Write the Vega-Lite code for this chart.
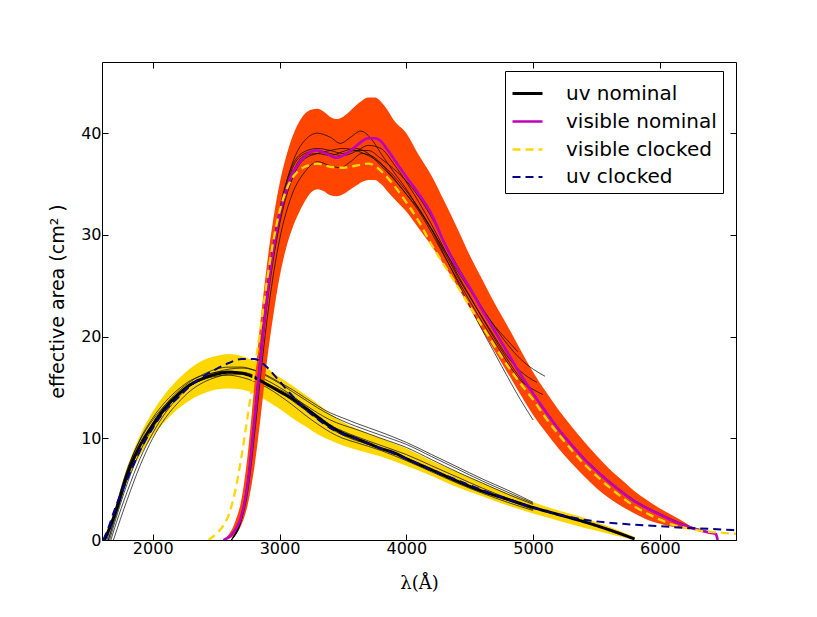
{
  "$schema": "https://vega.github.io/schema/vega-lite/v6.json",
  "autosize": {"type": "none"},
  "padding": {"left": 102, "top": 62, "right": 81, "bottom": 77},
  "width": 634,
  "height": 478,
  "datasets": {
    "uvBand": [
      {"x": 1620, "lo": 0, "hi": 0.3}, {"x": 1700, "lo": 2.2, "hi": 3.0}, {"x": 1800, "lo": 5.8, "hi": 7.2},
      {"x": 1900, "lo": 8.3, "hi": 10.3}, {"x": 2000, "lo": 10.2, "hi": 12.6}, {"x": 2100, "lo": 11.7, "hi": 14.4},
      {"x": 2200, "lo": 12.9, "hi": 15.8}, {"x": 2300, "lo": 13.8, "hi": 16.9}, {"x": 2400, "lo": 14.4, "hi": 17.7},
      {"x": 2500, "lo": 14.8, "hi": 18.1}, {"x": 2600, "lo": 14.9, "hi": 18.3}, {"x": 2700, "lo": 14.8, "hi": 18.1},
      {"x": 2800, "lo": 14.4, "hi": 17.6}, {"x": 2900, "lo": 13.7, "hi": 16.9}, {"x": 3000, "lo": 12.9, "hi": 16.0},
      {"x": 3100, "lo": 12.0, "hi": 15.2}, {"x": 3200, "lo": 11.2, "hi": 14.3}, {"x": 3300, "lo": 10.4, "hi": 13.4},
      {"x": 3400, "lo": 9.8, "hi": 12.4}, {"x": 3500, "lo": 9.3, "hi": 11.6}, {"x": 3600, "lo": 8.9, "hi": 11.0},
      {"x": 3800, "lo": 8.2, "hi": 10.0}, {"x": 4000, "lo": 7.3, "hi": 9.0}, {"x": 4200, "lo": 6.3, "hi": 7.8},
      {"x": 4400, "lo": 5.2, "hi": 6.7}, {"x": 4600, "lo": 4.3, "hi": 5.6}, {"x": 4800, "lo": 3.4, "hi": 4.6},
      {"x": 5000, "lo": 2.6, "hi": 3.7}, {"x": 5200, "lo": 1.9, "hi": 2.9}, {"x": 5400, "lo": 1.2, "hi": 2.2},
      {"x": 5600, "lo": 0.6, "hi": 1.3}, {"x": 5800, "lo": 0, "hi": 0.3}
    ],
    "visBand": [
      {"x": 2560, "lo": 0, "hi": 0}, {"x": 2650, "lo": 0.5, "hi": 1.8}, {"x": 2700, "lo": 1.5, "hi": 4.0},
      {"x": 2750, "lo": 3.5, "hi": 8.5}, {"x": 2800, "lo": 7.0, "hi": 15.0}, {"x": 2850, "lo": 12.0, "hi": 21.5},
      {"x": 2900, "lo": 17.5, "hi": 27.0}, {"x": 2950, "lo": 22.0, "hi": 31.5}, {"x": 3000, "lo": 25.8, "hi": 35.0},
      {"x": 3050, "lo": 28.6, "hi": 37.6}, {"x": 3100, "lo": 30.6, "hi": 39.6}, {"x": 3150, "lo": 32.1, "hi": 41.0},
      {"x": 3200, "lo": 33.3, "hi": 41.9}, {"x": 3250, "lo": 34.2, "hi": 42.3}, {"x": 3300, "lo": 34.5, "hi": 42.4},
      {"x": 3350, "lo": 34.3, "hi": 42.1}, {"x": 3400, "lo": 33.9, "hi": 41.6}, {"x": 3450, "lo": 33.8, "hi": 41.4},
      {"x": 3500, "lo": 34.0, "hi": 41.6}, {"x": 3550, "lo": 34.4, "hi": 42.1}, {"x": 3600, "lo": 34.8, "hi": 42.7},
      {"x": 3650, "lo": 35.2, "hi": 43.2}, {"x": 3700, "lo": 35.4, "hi": 43.5}, {"x": 3750, "lo": 35.4, "hi": 43.5},
      {"x": 3800, "lo": 35.0, "hi": 43.1}, {"x": 3850, "lo": 34.3, "hi": 42.3}, {"x": 3900, "lo": 33.6, "hi": 41.3},
      {"x": 4000, "lo": 32.3, "hi": 40.0}, {"x": 4100, "lo": 30.6, "hi": 37.8}, {"x": 4200, "lo": 28.9, "hi": 35.8},
      {"x": 4300, "lo": 27.0, "hi": 33.3}, {"x": 4400, "lo": 25.0, "hi": 30.7}, {"x": 4500, "lo": 22.8, "hi": 28.0},
      {"x": 4600, "lo": 20.6, "hi": 25.6}, {"x": 4700, "lo": 18.5, "hi": 23.2}, {"x": 4800, "lo": 16.4, "hi": 21.0},
      {"x": 4900, "lo": 14.3, "hi": 18.7}, {"x": 5000, "lo": 12.3, "hi": 16.5}, {"x": 5100, "lo": 10.6, "hi": 14.6},
      {"x": 5200, "lo": 9.0, "hi": 12.8}, {"x": 5300, "lo": 7.6, "hi": 11.2}, {"x": 5400, "lo": 6.3, "hi": 9.7},
      {"x": 5500, "lo": 5.1, "hi": 8.3}, {"x": 5600, "lo": 4.1, "hi": 7.0}, {"x": 5700, "lo": 3.3, "hi": 5.9},
      {"x": 5800, "lo": 2.6, "hi": 4.8}, {"x": 5900, "lo": 2.0, "hi": 3.9}, {"x": 6000, "lo": 1.6, "hi": 3.1},
      {"x": 6100, "lo": 1.3, "hi": 2.4}, {"x": 6200, "lo": 1.1, "hi": 1.7}, {"x": 6270, "lo": 1.0, "hi": 1.1}
    ],
    "uvThin": [
      {"c": "U1", "x": 1650, "y": 0}, {"c": "U1", "x": 1700, "y": 2.0}, {"c": "U1", "x": 1800, "y": 6.0}, {"c": "U1", "x": 1900, "y": 9.2},
      {"c": "U1", "x": 2000, "y": 11.5}, {"c": "U1", "x": 2100, "y": 13.3}, {"c": "U1", "x": 2200, "y": 14.6}, {"c": "U1", "x": 2300, "y": 15.6},
      {"c": "U1", "x": 2400, "y": 16.3}, {"c": "U1", "x": 2500, "y": 16.8}, {"c": "U1", "x": 2600, "y": 17.0}, {"c": "U1", "x": 2700, "y": 17.0},
      {"c": "U1", "x": 2800, "y": 16.7}, {"c": "U1", "x": 2900, "y": 16.1}, {"c": "U1", "x": 3000, "y": 15.4}, {"c": "U1", "x": 3100, "y": 14.6},
      {"c": "U1", "x": 3200, "y": 13.8}, {"c": "U1", "x": 3300, "y": 13.0}, {"c": "U1", "x": 3400, "y": 12.3}, {"c": "U1", "x": 3500, "y": 11.7},
      {"c": "U1", "x": 3600, "y": 11.2}, {"c": "U1", "x": 3800, "y": 10.3}, {"c": "U1", "x": 4000, "y": 9.4}, {"c": "U1", "x": 4200, "y": 8.2},
      {"c": "U1", "x": 4400, "y": 7.0}, {"c": "U1", "x": 4600, "y": 5.8}, {"c": "U1", "x": 4800, "y": 4.7}, {"c": "U1", "x": 5000, "y": 3.6},
      {"c": "U2", "x": 1650, "y": 0}, {"c": "U2", "x": 1700, "y": 2.3}, {"c": "U2", "x": 1800, "y": 6.8}, {"c": "U2", "x": 1900, "y": 9.9},
      {"c": "U2", "x": 2000, "y": 12.0}, {"c": "U2", "x": 2100, "y": 13.6}, {"c": "U2", "x": 2200, "y": 14.8}, {"c": "U2", "x": 2300, "y": 15.7},
      {"c": "U2", "x": 2400, "y": 16.2}, {"c": "U2", "x": 2500, "y": 16.5}, {"c": "U2", "x": 2600, "y": 16.6}, {"c": "U2", "x": 2700, "y": 16.4},
      {"c": "U2", "x": 2800, "y": 16.0}, {"c": "U2", "x": 2900, "y": 15.4}, {"c": "U2", "x": 3000, "y": 14.8}, {"c": "U2", "x": 3100, "y": 14.1},
      {"c": "U2", "x": 3200, "y": 13.3}, {"c": "U2", "x": 3300, "y": 12.5}, {"c": "U2", "x": 3400, "y": 11.8}, {"c": "U2", "x": 3500, "y": 11.3},
      {"c": "U2", "x": 3600, "y": 10.9}, {"c": "U2", "x": 3800, "y": 10.0}, {"c": "U2", "x": 4000, "y": 9.1}, {"c": "U2", "x": 4200, "y": 7.9},
      {"c": "U2", "x": 4400, "y": 6.7}, {"c": "U2", "x": 4600, "y": 5.6}, {"c": "U2", "x": 4800, "y": 4.5}, {"c": "U2", "x": 5000, "y": 3.5},
      {"c": "U3", "x": 1690, "y": 0}, {"c": "U3", "x": 1800, "y": 4.0}, {"c": "U3", "x": 1900, "y": 7.3}, {"c": "U3", "x": 2000, "y": 10.0},
      {"c": "U3", "x": 2100, "y": 12.0}, {"c": "U3", "x": 2200, "y": 13.5}, {"c": "U3", "x": 2300, "y": 14.7}, {"c": "U3", "x": 2400, "y": 15.5},
      {"c": "U3", "x": 2500, "y": 16.0}, {"c": "U3", "x": 2600, "y": 16.3}, {"c": "U3", "x": 2700, "y": 16.3}, {"c": "U3", "x": 2800, "y": 16.0},
      {"c": "U3", "x": 2900, "y": 15.4}, {"c": "U3", "x": 3000, "y": 14.6}, {"c": "U3", "x": 3100, "y": 13.7}, {"c": "U3", "x": 3200, "y": 12.8},
      {"c": "U3", "x": 3300, "y": 11.9}, {"c": "U3", "x": 3400, "y": 11.0}, {"c": "U3", "x": 3500, "y": 10.3}, {"c": "U3", "x": 3600, "y": 9.8},
      {"c": "U3", "x": 3800, "y": 9.0}, {"c": "U3", "x": 4000, "y": 8.0}, {"c": "U3", "x": 4200, "y": 6.9}, {"c": "U3", "x": 4400, "y": 5.8},
      {"c": "U3", "x": 4600, "y": 4.8}, {"c": "U3", "x": 4800, "y": 3.9}, {"c": "U3", "x": 5000, "y": 3.0},
      {"c": "U4", "x": 1660, "y": 0}, {"c": "U4", "x": 1700, "y": 1.7}, {"c": "U4", "x": 1800, "y": 5.6}, {"c": "U4", "x": 1900, "y": 8.7},
      {"c": "U4", "x": 2000, "y": 11.0}, {"c": "U4", "x": 2100, "y": 12.8}, {"c": "U4", "x": 2200, "y": 14.2}, {"c": "U4", "x": 2300, "y": 15.2},
      {"c": "U4", "x": 2400, "y": 15.9}, {"c": "U4", "x": 2500, "y": 16.3}, {"c": "U4", "x": 2600, "y": 16.5}, {"c": "U4", "x": 2700, "y": 16.5},
      {"c": "U4", "x": 2800, "y": 16.2}, {"c": "U4", "x": 2900, "y": 15.7}, {"c": "U4", "x": 3000, "y": 15.0}, {"c": "U4", "x": 3100, "y": 14.2},
      {"c": "U4", "x": 3200, "y": 13.2}, {"c": "U4", "x": 3300, "y": 12.2}, {"c": "U4", "x": 3400, "y": 11.3}, {"c": "U4", "x": 3500, "y": 10.7},
      {"c": "U4", "x": 3600, "y": 10.2}, {"c": "U4", "x": 3800, "y": 9.3}, {"c": "U4", "x": 4000, "y": 8.4}, {"c": "U4", "x": 4200, "y": 7.3},
      {"c": "U4", "x": 4400, "y": 6.2}, {"c": "U4", "x": 4600, "y": 5.1}, {"c": "U4", "x": 4800, "y": 4.1}, {"c": "U4", "x": 5000, "y": 3.2},
      {"c": "U5", "x": 1640, "y": 0}, {"c": "U5", "x": 1700, "y": 2.8}, {"c": "U5", "x": 1800, "y": 7.0}, {"c": "U5", "x": 1900, "y": 9.8},
      {"c": "U5", "x": 2000, "y": 11.8}, {"c": "U5", "x": 2100, "y": 13.3}, {"c": "U5", "x": 2200, "y": 14.4}, {"c": "U5", "x": 2300, "y": 15.2},
      {"c": "U5", "x": 2400, "y": 15.8}, {"c": "U5", "x": 2500, "y": 16.1}, {"c": "U5", "x": 2600, "y": 16.2}, {"c": "U5", "x": 2700, "y": 16.0},
      {"c": "U5", "x": 2800, "y": 15.6}, {"c": "U5", "x": 2900, "y": 15.0}, {"c": "U5", "x": 3000, "y": 14.2}, {"c": "U5", "x": 3100, "y": 13.3},
      {"c": "U5", "x": 3200, "y": 12.3}, {"c": "U5", "x": 3300, "y": 11.4}, {"c": "U5", "x": 3400, "y": 10.6}, {"c": "U5", "x": 3500, "y": 10.0},
      {"c": "U5", "x": 3600, "y": 9.6}, {"c": "U5", "x": 3800, "y": 8.8}, {"c": "U5", "x": 4000, "y": 7.8}, {"c": "U5", "x": 4200, "y": 6.7},
      {"c": "U5", "x": 4400, "y": 5.6}, {"c": "U5", "x": 4600, "y": 4.6}, {"c": "U5", "x": 4800, "y": 3.7}, {"c": "U5", "x": 5000, "y": 2.9},
      {"c": "U6", "x": 1670, "y": 0}, {"c": "U6", "x": 1700, "y": 1.2}, {"c": "U6", "x": 1800, "y": 4.8}, {"c": "U6", "x": 1900, "y": 8.0},
      {"c": "U6", "x": 2000, "y": 10.5}, {"c": "U6", "x": 2100, "y": 12.5}, {"c": "U6", "x": 2200, "y": 14.0}, {"c": "U6", "x": 2300, "y": 15.2},
      {"c": "U6", "x": 2400, "y": 16.0}, {"c": "U6", "x": 2500, "y": 16.5}, {"c": "U6", "x": 2600, "y": 16.8}, {"c": "U6", "x": 2700, "y": 16.9},
      {"c": "U6", "x": 2800, "y": 16.7}, {"c": "U6", "x": 2900, "y": 16.2}, {"c": "U6", "x": 3000, "y": 15.5}, {"c": "U6", "x": 3100, "y": 14.8},
      {"c": "U6", "x": 3200, "y": 14.0}, {"c": "U6", "x": 3300, "y": 13.2}, {"c": "U6", "x": 3400, "y": 12.5}, {"c": "U6", "x": 3500, "y": 12.0},
      {"c": "U6", "x": 3600, "y": 11.5}, {"c": "U6", "x": 3800, "y": 10.6}, {"c": "U6", "x": 4000, "y": 9.6}, {"c": "U6", "x": 4200, "y": 8.4},
      {"c": "U6", "x": 4400, "y": 7.2}, {"c": "U6", "x": 4600, "y": 6.0}, {"c": "U6", "x": 4800, "y": 4.9}, {"c": "U6", "x": 5000, "y": 3.7}
    ],
    "visThin": [
      {"c": "V1", "x": 2620, "y": 0}, {"c": "V1", "x": 2700, "y": 2.0}, {"c": "V1", "x": 2750, "y": 5.2}, {"c": "V1", "x": 2800, "y": 11.0},
      {"c": "V1", "x": 2850, "y": 17.5}, {"c": "V1", "x": 2900, "y": 23.5}, {"c": "V1", "x": 3000, "y": 32.0}, {"c": "V1", "x": 3100, "y": 37.0},
      {"c": "V1", "x": 3200, "y": 39.3}, {"c": "V1", "x": 3300, "y": 40.0}, {"c": "V1", "x": 3400, "y": 39.6}, {"c": "V1", "x": 3480, "y": 39.0},
      {"c": "V1", "x": 3560, "y": 39.6}, {"c": "V1", "x": 3640, "y": 40.2}, {"c": "V1", "x": 3720, "y": 39.5}, {"c": "V1", "x": 3800, "y": 38.0},
      {"c": "V1", "x": 3900, "y": 36.2}, {"c": "V1", "x": 4000, "y": 34.5}, {"c": "V1", "x": 4100, "y": 32.5}, {"c": "V1", "x": 4200, "y": 30.5},
      {"c": "V1", "x": 4300, "y": 28.5}, {"c": "V1", "x": 4400, "y": 26.5}, {"c": "V1", "x": 4500, "y": 24.6}, {"c": "V1", "x": 4600, "y": 22.7},
      {"c": "V1", "x": 4700, "y": 21.0}, {"c": "V1", "x": 4800, "y": 19.6}, {"c": "V1", "x": 4880, "y": 18.5},
      {"c": "V2", "x": 2620, "y": 0}, {"c": "V2", "x": 2700, "y": 2.5}, {"c": "V2", "x": 2750, "y": 6.0}, {"c": "V2", "x": 2800, "y": 12.0},
      {"c": "V2", "x": 2850, "y": 18.5}, {"c": "V2", "x": 2900, "y": 24.5}, {"c": "V2", "x": 3000, "y": 32.5}, {"c": "V2", "x": 3100, "y": 36.8},
      {"c": "V2", "x": 3200, "y": 38.2}, {"c": "V2", "x": 3300, "y": 38.5}, {"c": "V2", "x": 3400, "y": 38.3}, {"c": "V2", "x": 3500, "y": 38.0},
      {"c": "V2", "x": 3600, "y": 38.3}, {"c": "V2", "x": 3700, "y": 38.3}, {"c": "V2", "x": 3800, "y": 37.5}, {"c": "V2", "x": 3900, "y": 36.5},
      {"c": "V2", "x": 4000, "y": 35.3}, {"c": "V2", "x": 4100, "y": 33.7}, {"c": "V2", "x": 4200, "y": 31.7}, {"c": "V2", "x": 4300, "y": 29.3},
      {"c": "V2", "x": 4400, "y": 27.0}, {"c": "V2", "x": 4500, "y": 24.9}, {"c": "V2", "x": 4600, "y": 22.8}, {"c": "V2", "x": 4700, "y": 20.9},
      {"c": "V2", "x": 4800, "y": 19.2}, {"c": "V2", "x": 4900, "y": 17.8}, {"c": "V2", "x": 5000, "y": 16.8}, {"c": "V2", "x": 5094, "y": 16.1},
      {"c": "V3", "x": 2620, "y": 0}, {"c": "V3", "x": 2700, "y": 2.2}, {"c": "V3", "x": 2750, "y": 5.5}, {"c": "V3", "x": 2800, "y": 11.5},
      {"c": "V3", "x": 2850, "y": 18.0}, {"c": "V3", "x": 2900, "y": 24.0}, {"c": "V3", "x": 3000, "y": 31.5}, {"c": "V3", "x": 3100, "y": 36.0},
      {"c": "V3", "x": 3200, "y": 37.8}, {"c": "V3", "x": 3300, "y": 38.0}, {"c": "V3", "x": 3400, "y": 37.8}, {"c": "V3", "x": 3500, "y": 38.2},
      {"c": "V3", "x": 3600, "y": 38.5}, {"c": "V3", "x": 3700, "y": 38.0}, {"c": "V3", "x": 3800, "y": 36.8}, {"c": "V3", "x": 3900, "y": 35.5},
      {"c": "V3", "x": 4000, "y": 34.0}, {"c": "V3", "x": 4100, "y": 32.5}, {"c": "V3", "x": 4200, "y": 30.6}, {"c": "V3", "x": 4300, "y": 28.3},
      {"c": "V3", "x": 4400, "y": 26.0}, {"c": "V3", "x": 4500, "y": 23.9}, {"c": "V3", "x": 4600, "y": 21.9}, {"c": "V3", "x": 4700, "y": 19.9},
      {"c": "V3", "x": 4800, "y": 18.0}, {"c": "V3", "x": 4900, "y": 16.6}, {"c": "V3", "x": 5030, "y": 15.5},
      {"c": "V4", "x": 2620, "y": 0}, {"c": "V4", "x": 2700, "y": 2.0}, {"c": "V4", "x": 2750, "y": 4.8}, {"c": "V4", "x": 2800, "y": 10.0},
      {"c": "V4", "x": 2850, "y": 16.0}, {"c": "V4", "x": 2900, "y": 21.5}, {"c": "V4", "x": 3000, "y": 29.5}, {"c": "V4", "x": 3100, "y": 34.0},
      {"c": "V4", "x": 3200, "y": 36.2}, {"c": "V4", "x": 3300, "y": 37.2}, {"c": "V4", "x": 3400, "y": 36.8}, {"c": "V4", "x": 3480, "y": 36.6},
      {"c": "V4", "x": 3560, "y": 37.2}, {"c": "V4", "x": 3650, "y": 38.0}, {"c": "V4", "x": 3750, "y": 37.6}, {"c": "V4", "x": 3850, "y": 36.3},
      {"c": "V4", "x": 4000, "y": 34.0}, {"c": "V4", "x": 4100, "y": 32.3}, {"c": "V4", "x": 4200, "y": 30.2}, {"c": "V4", "x": 4300, "y": 27.9},
      {"c": "V4", "x": 4400, "y": 25.7}, {"c": "V4", "x": 4500, "y": 23.5}, {"c": "V4", "x": 4600, "y": 21.4}, {"c": "V4", "x": 4700, "y": 19.4},
      {"c": "V4", "x": 4800, "y": 17.4}, {"c": "V4", "x": 4900, "y": 15.7}, {"c": "V4", "x": 5000, "y": 14.8}, {"c": "V4", "x": 5078, "y": 14.3},
      {"c": "V5", "x": 2620, "y": 0}, {"c": "V5", "x": 2700, "y": 2.2}, {"c": "V5", "x": 2750, "y": 5.4}, {"c": "V5", "x": 2800, "y": 11.2},
      {"c": "V5", "x": 2850, "y": 17.5}, {"c": "V5", "x": 2900, "y": 23.0}, {"c": "V5", "x": 3000, "y": 31.0}, {"c": "V5", "x": 3100, "y": 35.5},
      {"c": "V5", "x": 3200, "y": 37.5}, {"c": "V5", "x": 3300, "y": 38.0}, {"c": "V5", "x": 3400, "y": 38.3}, {"c": "V5", "x": 3500, "y": 38.5},
      {"c": "V5", "x": 3600, "y": 38.3}, {"c": "V5", "x": 3700, "y": 37.8}, {"c": "V5", "x": 3800, "y": 37.0}, {"c": "V5", "x": 3900, "y": 35.8},
      {"c": "V5", "x": 4000, "y": 34.3}, {"c": "V5", "x": 4100, "y": 32.6}, {"c": "V5", "x": 4200, "y": 30.5}, {"c": "V5", "x": 4300, "y": 28.0},
      {"c": "V5", "x": 4400, "y": 25.5}, {"c": "V5", "x": 4500, "y": 23.0}, {"c": "V5", "x": 4600, "y": 20.6}, {"c": "V5", "x": 4700, "y": 18.3},
      {"c": "V5", "x": 4800, "y": 16.0}, {"c": "V5", "x": 4900, "y": 13.8}, {"c": "V5", "x": 5000, "y": 11.8},
      {"c": "V6", "x": 2620, "y": 0}, {"c": "V6", "x": 2700, "y": 2.4}, {"c": "V6", "x": 2750, "y": 5.8}, {"c": "V6", "x": 2800, "y": 11.8},
      {"c": "V6", "x": 2850, "y": 18.2}, {"c": "V6", "x": 2900, "y": 24.2}, {"c": "V6", "x": 3000, "y": 32.0}, {"c": "V6", "x": 3100, "y": 36.5},
      {"c": "V6", "x": 3200, "y": 38.0}, {"c": "V6", "x": 3300, "y": 38.3}, {"c": "V6", "x": 3400, "y": 38.0}, {"c": "V6", "x": 3500, "y": 37.8},
      {"c": "V6", "x": 3600, "y": 38.2}, {"c": "V6", "x": 3700, "y": 38.8}, {"c": "V6", "x": 3800, "y": 38.5}, {"c": "V6", "x": 3900, "y": 37.0},
      {"c": "V6", "x": 4000, "y": 35.2}, {"c": "V6", "x": 4100, "y": 33.2}, {"c": "V6", "x": 4200, "y": 31.0}, {"c": "V6", "x": 4300, "y": 28.6},
      {"c": "V6", "x": 4400, "y": 26.2}, {"c": "V6", "x": 4500, "y": 24.0}, {"c": "V6", "x": 4600, "y": 21.8}, {"c": "V6", "x": 4700, "y": 19.7},
      {"c": "V6", "x": 4800, "y": 17.7}, {"c": "V6", "x": 4900, "y": 15.9}, {"c": "V6", "x": 5000, "y": 14.4}, {"c": "V6", "x": 5100, "y": 12.7},
      {"c": "V6", "x": 5200, "y": 11.0}, {"c": "V6", "x": 5300, "y": 9.5}, {"c": "V6", "x": 5400, "y": 8.1}, {"c": "V6", "x": 5500, "y": 6.9},
      {"c": "V6", "x": 5600, "y": 5.8}, {"c": "V6", "x": 5700, "y": 4.8}, {"c": "V6", "x": 5800, "y": 3.9}, {"c": "V6", "x": 5900, "y": 3.2},
      {"c": "V6", "x": 6000, "y": 2.6}, {"c": "V6", "x": 6100, "y": 2.0}, {"c": "V6", "x": 6200, "y": 1.5}, {"c": "V6", "x": 6300, "y": 1.1},
      {"c": "V6", "x": 6400, "y": 0.8}
    ],
    "main": [
      {"s": "uv nominal", "x": 1620, "y": 0}, {"s": "uv nominal", "x": 1700, "y": 2.5}, {"s": "uv nominal", "x": 1800, "y": 6.5},
      {"s": "uv nominal", "x": 1900, "y": 9.3}, {"s": "uv nominal", "x": 2000, "y": 11.3}, {"s": "uv nominal", "x": 2100, "y": 13.0},
      {"s": "uv nominal", "x": 2200, "y": 14.3}, {"s": "uv nominal", "x": 2300, "y": 15.3}, {"s": "uv nominal", "x": 2400, "y": 15.9},
      {"s": "uv nominal", "x": 2500, "y": 16.3}, {"s": "uv nominal", "x": 2600, "y": 16.5}, {"s": "uv nominal", "x": 2700, "y": 16.4},
      {"s": "uv nominal", "x": 2800, "y": 16.0}, {"s": "uv nominal", "x": 2900, "y": 15.3}, {"s": "uv nominal", "x": 3000, "y": 14.6},
      {"s": "uv nominal", "x": 3100, "y": 13.9}, {"s": "uv nominal", "x": 3200, "y": 13.0}, {"s": "uv nominal", "x": 3300, "y": 12.1},
      {"s": "uv nominal", "x": 3400, "y": 11.2}, {"s": "uv nominal", "x": 3500, "y": 10.5}, {"s": "uv nominal", "x": 3600, "y": 10.0},
      {"s": "uv nominal", "x": 3700, "y": 9.5}, {"s": "uv nominal", "x": 3800, "y": 9.0}, {"s": "uv nominal", "x": 3900, "y": 8.6},
      {"s": "uv nominal", "x": 4000, "y": 8.0}, {"s": "uv nominal", "x": 4200, "y": 6.9}, {"s": "uv nominal", "x": 4400, "y": 5.8},
      {"s": "uv nominal", "x": 4600, "y": 4.8}, {"s": "uv nominal", "x": 4800, "y": 4.0}, {"s": "uv nominal", "x": 5000, "y": 3.2},
      {"s": "uv nominal", "x": 5200, "y": 2.5}, {"s": "uv nominal", "x": 5400, "y": 1.8}, {"s": "uv nominal", "x": 5600, "y": 1.0},
      {"s": "uv nominal", "x": 5800, "y": 0.1},
      {"s": "visible nominal", "x": 2557, "y": 0}, {"s": "visible nominal", "x": 2650, "y": 1.0}, {"s": "visible nominal", "x": 2700, "y": 2.4},
      {"s": "visible nominal", "x": 2750, "y": 5.6}, {"s": "visible nominal", "x": 2800, "y": 11.5}, {"s": "visible nominal", "x": 2850, "y": 17.8},
      {"s": "visible nominal", "x": 2900, "y": 23.8}, {"s": "visible nominal", "x": 2950, "y": 28.5}, {"s": "visible nominal", "x": 3000, "y": 32.0},
      {"s": "visible nominal", "x": 3050, "y": 34.3}, {"s": "visible nominal", "x": 3100, "y": 36.0}, {"s": "visible nominal", "x": 3150, "y": 37.0},
      {"s": "visible nominal", "x": 3200, "y": 37.7}, {"s": "visible nominal", "x": 3250, "y": 38.2}, {"s": "visible nominal", "x": 3300, "y": 38.3},
      {"s": "visible nominal", "x": 3350, "y": 38.1}, {"s": "visible nominal", "x": 3400, "y": 37.8}, {"s": "visible nominal", "x": 3450, "y": 37.6},
      {"s": "visible nominal", "x": 3500, "y": 37.8}, {"s": "visible nominal", "x": 3550, "y": 38.2}, {"s": "visible nominal", "x": 3600, "y": 38.7},
      {"s": "visible nominal", "x": 3650, "y": 39.2}, {"s": "visible nominal", "x": 3700, "y": 39.5}, {"s": "visible nominal", "x": 3750, "y": 39.5},
      {"s": "visible nominal", "x": 3800, "y": 39.2}, {"s": "visible nominal", "x": 3850, "y": 38.4}, {"s": "visible nominal", "x": 3900, "y": 37.5},
      {"s": "visible nominal", "x": 4000, "y": 35.7}, {"s": "visible nominal", "x": 4100, "y": 34.0}, {"s": "visible nominal", "x": 4200, "y": 32.0},
      {"s": "visible nominal", "x": 4300, "y": 29.2}, {"s": "visible nominal", "x": 4400, "y": 26.8}, {"s": "visible nominal", "x": 4500, "y": 24.8},
      {"s": "visible nominal", "x": 4600, "y": 22.6}, {"s": "visible nominal", "x": 4700, "y": 20.5}, {"s": "visible nominal", "x": 4800, "y": 18.4},
      {"s": "visible nominal", "x": 4900, "y": 16.3}, {"s": "visible nominal", "x": 5000, "y": 14.4}, {"s": "visible nominal", "x": 5100, "y": 12.6},
      {"s": "visible nominal", "x": 5200, "y": 10.9}, {"s": "visible nominal", "x": 5300, "y": 9.4}, {"s": "visible nominal", "x": 5400, "y": 8.0},
      {"s": "visible nominal", "x": 5500, "y": 6.8}, {"s": "visible nominal", "x": 5600, "y": 5.7}, {"s": "visible nominal", "x": 5700, "y": 4.7},
      {"s": "visible nominal", "x": 5800, "y": 3.8}, {"s": "visible nominal", "x": 5900, "y": 3.1}, {"s": "visible nominal", "x": 6000, "y": 2.5},
      {"s": "visible nominal", "x": 6100, "y": 1.9}, {"s": "visible nominal", "x": 6200, "y": 1.4}, {"s": "visible nominal", "x": 6300, "y": 1.0},
      {"s": "visible nominal", "x": 6400, "y": 0.7}, {"s": "visible nominal", "x": 6440, "y": 0.6}, {"s": "visible nominal", "x": 6455, "y": 0},
      {"s": "visible clocked", "x": 2440, "y": 0}, {"s": "visible clocked", "x": 2500, "y": 0.6}, {"s": "visible clocked", "x": 2550, "y": 1.3},
      {"s": "visible clocked", "x": 2600, "y": 2.5}, {"s": "visible clocked", "x": 2650, "y": 4.8}, {"s": "visible clocked", "x": 2700, "y": 8.2},
      {"s": "visible clocked", "x": 2750, "y": 12.3}, {"s": "visible clocked", "x": 2800, "y": 16.5}, {"s": "visible clocked", "x": 2850, "y": 20.8},
      {"s": "visible clocked", "x": 2900, "y": 25.4}, {"s": "visible clocked", "x": 2950, "y": 29.3}, {"s": "visible clocked", "x": 3000, "y": 32.3},
      {"s": "visible clocked", "x": 3050, "y": 34.3}, {"s": "visible clocked", "x": 3100, "y": 35.6}, {"s": "visible clocked", "x": 3150, "y": 36.3},
      {"s": "visible clocked", "x": 3200, "y": 36.7}, {"s": "visible clocked", "x": 3300, "y": 37.0}, {"s": "visible clocked", "x": 3400, "y": 36.7},
      {"s": "visible clocked", "x": 3500, "y": 36.6}, {"s": "visible clocked", "x": 3600, "y": 36.8}, {"s": "visible clocked", "x": 3700, "y": 37.0},
      {"s": "visible clocked", "x": 3750, "y": 36.8}, {"s": "visible clocked", "x": 3800, "y": 36.3}, {"s": "visible clocked", "x": 3900, "y": 34.9},
      {"s": "visible clocked", "x": 4000, "y": 33.2}, {"s": "visible clocked", "x": 4100, "y": 31.3}, {"s": "visible clocked", "x": 4200, "y": 29.0},
      {"s": "visible clocked", "x": 4300, "y": 27.0}, {"s": "visible clocked", "x": 4400, "y": 25.0}, {"s": "visible clocked", "x": 4500, "y": 23.0},
      {"s": "visible clocked", "x": 4600, "y": 21.0}, {"s": "visible clocked", "x": 4700, "y": 19.0}, {"s": "visible clocked", "x": 4800, "y": 17.1},
      {"s": "visible clocked", "x": 4900, "y": 15.4}, {"s": "visible clocked", "x": 5000, "y": 13.8}, {"s": "visible clocked", "x": 5100, "y": 12.0},
      {"s": "visible clocked", "x": 5200, "y": 10.4}, {"s": "visible clocked", "x": 5300, "y": 8.9}, {"s": "visible clocked", "x": 5400, "y": 7.5},
      {"s": "visible clocked", "x": 5500, "y": 6.3}, {"s": "visible clocked", "x": 5600, "y": 5.2}, {"s": "visible clocked", "x": 5700, "y": 4.2},
      {"s": "visible clocked", "x": 5800, "y": 3.3}, {"s": "visible clocked", "x": 5900, "y": 2.6}, {"s": "visible clocked", "x": 6000, "y": 2.0},
      {"s": "visible clocked", "x": 6100, "y": 1.5}, {"s": "visible clocked", "x": 6200, "y": 1.2}, {"s": "visible clocked", "x": 6300, "y": 0.95},
      {"s": "visible clocked", "x": 6400, "y": 0.8}, {"s": "visible clocked", "x": 6500, "y": 0.7}, {"s": "visible clocked", "x": 6600, "y": 0.6},
      {"s": "uv clocked", "x": 1610, "y": 0}, {"s": "uv clocked", "x": 1650, "y": 1.2}, {"s": "uv clocked", "x": 1700, "y": 3.0},
      {"s": "uv clocked", "x": 1800, "y": 6.0}, {"s": "uv clocked", "x": 1900, "y": 8.8}, {"s": "uv clocked", "x": 2000, "y": 11.0},
      {"s": "uv clocked", "x": 2100, "y": 12.8}, {"s": "uv clocked", "x": 2200, "y": 14.0}, {"s": "uv clocked", "x": 2300, "y": 15.2},
      {"s": "uv clocked", "x": 2400, "y": 16.1}, {"s": "uv clocked", "x": 2500, "y": 16.8}, {"s": "uv clocked", "x": 2600, "y": 17.4},
      {"s": "uv clocked", "x": 2700, "y": 17.8}, {"s": "uv clocked", "x": 2800, "y": 17.8}, {"s": "uv clocked", "x": 2900, "y": 17.0},
      {"s": "uv clocked", "x": 3000, "y": 15.6}, {"s": "uv clocked", "x": 3100, "y": 14.2}, {"s": "uv clocked", "x": 3200, "y": 12.9},
      {"s": "uv clocked", "x": 3300, "y": 11.9}, {"s": "uv clocked", "x": 3400, "y": 11.0}, {"s": "uv clocked", "x": 3500, "y": 10.4},
      {"s": "uv clocked", "x": 3600, "y": 10.0}, {"s": "uv clocked", "x": 3700, "y": 9.5}, {"s": "uv clocked", "x": 3800, "y": 9.0},
      {"s": "uv clocked", "x": 3900, "y": 8.5}, {"s": "uv clocked", "x": 4000, "y": 8.0}, {"s": "uv clocked", "x": 4200, "y": 6.9},
      {"s": "uv clocked", "x": 4400, "y": 5.9}, {"s": "uv clocked", "x": 4600, "y": 4.9}, {"s": "uv clocked", "x": 4800, "y": 4.0},
      {"s": "uv clocked", "x": 5000, "y": 3.2}, {"s": "uv clocked", "x": 5200, "y": 2.5}, {"s": "uv clocked", "x": 5400, "y": 2.0},
      {"s": "uv clocked", "x": 5600, "y": 1.7}, {"s": "uv clocked", "x": 5800, "y": 1.5}, {"s": "uv clocked", "x": 6000, "y": 1.35},
      {"s": "uv clocked", "x": 6200, "y": 1.2}, {"s": "uv clocked", "x": 6400, "y": 1.1}, {"s": "uv clocked", "x": 6600, "y": 0.95}
    ]
  },
  "layer": [
    {
      "data": {"name": "uvBand"},
      "mark": {"type": "area", "color": "#ffd700", "interpolate": "monotone", "clip": true},
      "encoding": {
        "x": {"field": "x", "type": "quantitative", "scale": {"domain": [1600, 6600], "nice": false, "zero": false},
          "axis": {"orient": "bottom", "values": [2000, 3000, 4000, 5000, 6000], "format": "d", "title": "λ(Å)", "titleFont": "DejaVu Serif", "titleFontSize": 18, "labelPadding": 6, "titlePadding": 18}},
        "y": {"field": "lo", "type": "quantitative", "scale": {"domain": [0, 47], "nice": false},
          "axis": {"orient": "left", "values": [0, 10, 20, 30, 40], "title": "effective area (cm² )", "labelPadding": 7, "titlePadding": 13}},
        "y2": {"field": "hi"}
      }
    },
    {
      "data": {"name": "uvThin"},
      "mark": {"type": "line", "color": "black", "strokeWidth": 0.7, "interpolate": "monotone", "clip": true},
      "encoding": {
        "x": {"field": "x", "type": "quantitative", "axis": null},
        "y": {"field": "y", "type": "quantitative", "axis": null},
        "detail": {"field": "c"}
      }
    },
    {
      "data": {"name": "visBand"},
      "mark": {"type": "area", "color": "#ff4500", "interpolate": "monotone", "clip": true},
      "encoding": {
        "x": {"field": "x", "type": "quantitative",
          "axis": {"orient": "top", "values": [2000, 3000, 4000, 5000, 6000], "labels": false, "title": null}},
        "y": {"field": "lo", "type": "quantitative",
          "axis": {"orient": "right", "values": [0, 10, 20, 30, 40], "labels": false, "title": null}},
        "y2": {"field": "hi"}
      }
    },
    {
      "data": {"name": "visThin"},
      "mark": {"type": "line", "color": "black", "strokeWidth": 0.7, "interpolate": "monotone", "clip": true},
      "encoding": {
        "x": {"field": "x", "type": "quantitative", "axis": null},
        "y": {"field": "y", "type": "quantitative", "axis": null},
        "detail": {"field": "c"}
      }
    },
    {
      "data": {"name": "main"},
      "mark": {"type": "line", "interpolate": "monotone", "clip": true},
      "encoding": {
        "x": {"field": "x", "type": "quantitative", "axis": null},
        "y": {"field": "y", "type": "quantitative", "axis": null},
        "color": {"field": "s", "type": "nominal", "sort": null,
          "scale": {"domain": ["uv nominal", "visible nominal", "visible clocked", "uv clocked"], "range": ["#000000", "#bf00bf", "#ffd700", "#00008b"]},
          "legend": {"title": null, "orient": "none", "legendX": 403, "legendY": 9}},
        "strokeDash": {"field": "s", "type": "nominal", "sort": null,
          "scale": {"domain": ["uv nominal", "visible nominal", "visible clocked", "uv clocked"], "range": [[1, 0], [1, 0], [8, 5], [8, 5]]},
          "legend": {"title": null, "orient": "none", "legendX": 403, "legendY": 9}},
        "strokeWidth": {"field": "s", "type": "nominal", "sort": null,
          "scale": {"domain": ["uv nominal", "visible nominal", "visible clocked", "uv clocked"], "range": [3, 2, 3, 3]},
          "legend": {"title": null, "orient": "none", "legendX": 403, "legendY": 9}},
        "order": {"field": "x", "type": "quantitative"}
      }
    }
  ],
  "resolve": {"axis": {"x": "independent", "y": "independent"}},
  "config": {
    "font": "DejaVu Sans",
    "view": {"stroke": "black", "strokeWidth": 1},
    "axis": {
      "domain": false, "grid": false, "ticks": true, "tickSize": -6, "tickColor": "black", "tickWidth": 1,
      "labelFont": "DejaVu Sans", "labelFontSize": 16, "labelColor": "black",
      "titleFont": "DejaVu Sans", "titleFontSize": 19, "titleFontWeight": "normal", "titleColor": "black"
    },
    "legend": {
      "strokeColor": "black", "fillColor": "white", "padding": 6, "cornerRadius": 0,
      "symbolType": "stroke", "symbolSize": 900,
      "labelFont": "DejaVu Sans", "labelFontSize": 20, "labelColor": "black", "labelOffset": 22,
      "rowPadding": 1, "labelLimit": 300
    }
  }
}
